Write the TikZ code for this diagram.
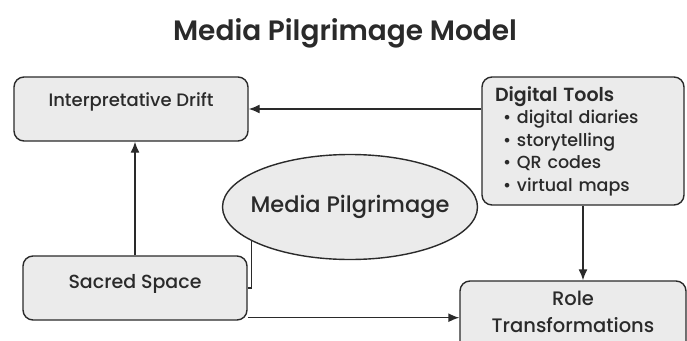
\documentclass[tikz,border=0pt]{standalone}
\usepackage{fontspec}
\setmainfont{Poppins}[UprightFont=* Medium, BoldFont=* SemiBold]
\usetikzlibrary{arrows.meta, shapes.geometric}
\definecolor{boxfill}{HTML}{EBEBEB}
\definecolor{ink}{HTML}{2A2A2A}
\tikzstyle{diagram}=[x=1pt, y=-1pt, color=ink, line width=1.4pt, >={Latex[length=11pt,width=9pt]}]
\tikzstyle{block}=[draw=ink, fill=boxfill, rounded corners=10pt, minimum height=64pt]
\tikzstyle{hub}=[ellipse, draw=ink, fill=boxfill, inner xsep=-16pt, inner ysep=0pt, minimum width=255pt, minimum height=105pt]

\begin{document}
\begin{tikzpicture}[diagram]
  \useasboundingbox (0,0) rectangle (687,340);
  \node (title) at (345,33) {\fontsize{28}{32}\selectfont\bfseries Media Pilgrimage Model};
  \node[block,minimum width=234pt,text depth=18pt,font=\fontsize{18}{21}\selectfont] (drift) at (131,109) {Interpretative Drift};
  \node[block,minimum width=202pt,minimum height=128pt,inner xsep=13pt,text width=176pt,align=left,font=\fontsize{17.5}{22.5}\selectfont] (tools) at (583,141)
    {{\bfseries\fontsize{19}{22.5}\selectfont Digital Tools}\\
     \hspace*{8pt}• digital diaries\\
     \hspace*{8pt}• storytelling\\
     \hspace*{8pt}• QR codes\\
     \hspace*{8pt}• virtual maps};
  \node[hub,font=\fontsize{22.5}{26}\selectfont] (media) at (350,207) {Media Pilgrimage};
  \node[block,minimum width=224pt,text depth=14pt,font=\fontsize{19}{22}\selectfont] (sacred) at (135,288) {Sacred Space};
  \node[block,minimum width=226pt,minimum height=70pt,align=center,text depth=9pt,font=\fontsize{19.5}{27}\selectfont] (role) at (573,316) {Role\\Transformations};
  \coordinate (s) at ([yshift=3pt]sacred.south east);
  \path[->] (tools.west |- drift) edge (drift);
  \path[->] (sacred.north) edge (sacred.north |- drift.south);
  \path[->] (tools.south) edge (tools.south |- role.north);
  \path[->] (s) edge (s -| role.west);
  \draw (sacred.east) -| (media.199);
\end{tikzpicture}
\end{document}
